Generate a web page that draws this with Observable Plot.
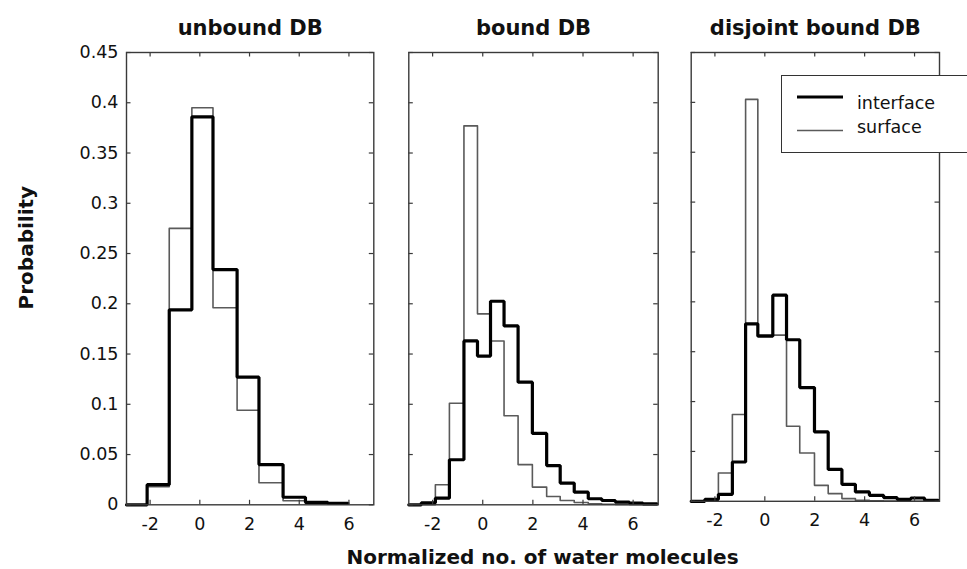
<!DOCTYPE html>
<html>
<head>
<meta charset="utf-8">
<script src="https://cdn.jsdelivr.net/npm/d3@7"></script>
<script src="https://cdn.jsdelivr.net/npm/@observablehq/plot@0.6"></script>
<style>
  html, body { margin: 0; padding: 0; background: #fff; }
  #chart { position: relative; width: 967px; height: 569px; overflow: hidden; font-family: "DejaVu Sans", sans-serif; }
  #chart svg { position: absolute; left: 0; top: 0; }
  #legend { position: absolute; left: 781px; top: 75px; width: 200px; height: 78px; background: #fff; border: 1.3px solid #333; box-sizing: border-box; }
  #legend svg { position: absolute; left: 0; top: 0; }
</style>
</head>
<body>
<div id="chart"></div>
<script>
// ---- data ----
const panelTitles = ["unbound DB", "bound DB", "disjoint bound DB"];
const seriesNames = ["interface", "surface"];
const xTicks = [-2, 0, 2, 4, 6];
const yTicks = [0, 0.05, 0.1, 0.15, 0.2, 0.25, 0.3, 0.35, 0.4, 0.45];

// bin edges (left edge of each step); first entry is the left axis limit
const unboundEdges   = [-2.95, -2.12, -1.23, -0.32, 0.53, 1.50, 2.38, 3.35, 4.25, 5.15, 5.96];
const unboundIface   = [0, 0.020, 0.194, 0.386, 0.234, 0.127, 0.040, 0.0075, 0.0025, 0.0015];
const unboundSurf    = [0, 0.018, 0.275, 0.395, 0.196, 0.094, 0.022, 0.004, 0.001, 0.0005];

const boundEdges     = [-2.95, -2.45, -1.89, -1.33, -0.75, -0.21, 0.31, 0.85, 1.41, 1.98, 2.55, 3.09, 3.65, 4.21, 4.75, 5.29, 5.85, 6.39, 6.95];
const boundIface     = [0, 0.002, 0.0066, 0.0448, 0.163, 0.148, 0.2025, 0.178, 0.122, 0.071, 0.039, 0.0216, 0.0126, 0.006, 0.0043, 0.0027, 0.0017, 0.001];
const boundSurf      = [0, 0, 0.020, 0.101, 0.377, 0.190, 0.163, 0.0886, 0.040, 0.0176, 0.0083, 0.0043, 0.0023, 0.001, 0.0005, 0.0003, 0.0002, 0.0001];

const disjointEdges  = [-2.95, -2.4, -1.86, -1.3, -0.77, -0.28, 0.32, 0.87, 1.4, 1.99, 2.54, 3.09, 3.63, 4.19, 4.76, 5.3, 5.85, 6.4, 6.95];
const disjointIface  = [0, 0.002, 0.007, 0.0394, 0.178, 0.1656, 0.2067, 0.162, 0.114, 0.0696, 0.032, 0.017, 0.0094, 0.006, 0.0037, 0.002, 0.0033, 0.001];
const disjointSurf   = [0, 0.001, 0.0284, 0.087, 0.403, 0.1666, 0.1666, 0.0753, 0.0485, 0.016, 0.0077, 0.0027, 0.001, 0.0005, 0.0003, 0.0002, 0.0001, 0.0001];

const xLabel = "Normalized no. of water molecules";
const yLabel = "Probability";

// ---- layout ----
const W = 967, H = 569;
const panels = [
  {title: panelTitles[0], edges: unboundEdges, a: unboundIface, b: unboundSurf, L: 126, R: 373.3, T: 52, B: 504.3, yAxis: true},
  {title: panelTitles[1], edges: boundEdges, a: boundIface, b: boundSurf, L: 408.3, R: 657.7, T: 52, B: 504.3, xLab: true},
  {title: panelTitles[2], edges: disjointEdges, a: disjointIface, b: disjointSurf, L: 690.7, R: 939, T: 52, B: 500.8}
];

function steps(edges, vals) {
  return edges.map((e, i) => ({x: e, y: vals[Math.min(i, vals.length - 1)]}));
}

const chart = document.getElementById("chart");
const frameColor = "#3a3a3a";

panels.forEach(p => {
  const innerH = p.B - p.T, innerW = p.R - p.L;
  const tk = 4.5;
  const marks = [
    Plot.line(steps(p.edges, p.b), {x: "x", y: "y", curve: "step-after", stroke: "#5a5a5a", strokeWidth: 1.6}),
    Plot.line(steps(p.edges, p.a), {x: "x", y: "y", curve: "step-after", stroke: "#000", strokeWidth: 3.2, strokeLinejoin: "miter"}),
    Plot.tickX(xTicks, {x: d => d, insetTop: innerH - tk, stroke: frameColor, strokeWidth: 1.2}),
    Plot.tickX(xTicks, {x: d => d, insetBottom: innerH - tk, stroke: frameColor, strokeWidth: 1.2}),
    Plot.tickY(yTicks, {y: d => d, insetRight: innerW - tk, stroke: frameColor, strokeWidth: 1.2}),
    Plot.tickY(yTicks, {y: d => d, insetLeft: innerW - tk, stroke: frameColor, strokeWidth: 1.2}),
    Plot.frame({stroke: frameColor, strokeWidth: 1.4}),
    Plot.axisX(xTicks, {tickSize: 0, tickPadding: 12.5, fontSize: 17.5, tickFormat: d => String(d), label: null, fill: "#111"}),
    Plot.text([p.title], {frameAnchor: "top", lineAnchor: "bottom", dy: -17.5, fontSize: 21, fontWeight: "bold", fill: "#111"})
  ];
  if (p.yAxis) {
    marks.push(Plot.axisY(yTicks, {tickSize: 0, tickPadding: 8, fontSize: 17.5, tickFormat: d => String(+d.toFixed(2)), label: null, fill: "#111"}));
    marks.push(Plot.text([yLabel], {frameAnchor: "left", textAnchor: "middle", lineAnchor: "bottom", rotate: -90, dx: -94, dy: -31, fontSize: 20, fontWeight: "bold", fill: "#111"}));
  }
  if (p.xLab) {
    marks.push(Plot.text([xLabel], {frameAnchor: "bottom", textAnchor: "middle", lineAnchor: "bottom", dy: 59.5, dx: 9, fontSize: 20, fontWeight: "bold", fill: "#111"}));
  }
  const svg = Plot.plot({
    width: W, height: H,
    marginLeft: p.L, marginRight: W - p.R, marginTop: p.T, marginBottom: H - p.B,
    x: {domain: [-2.95, 7], axis: null},
    y: {domain: [0, 0.45], axis: null},
    style: {background: "transparent", fontFamily: "DejaVu Sans", overflow: "visible"},
    marks
  });
  chart.appendChild(svg);
});

// legend (HTML overlay, white box on top of the third panel)
const leg = document.createElement("div");
leg.id = "legend";
const ns = "http://www.w3.org/2000/svg";
const lsvg = document.createElementNS(ns, "svg");
lsvg.setAttribute("width", 200); lsvg.setAttribute("height", 78);
[[seriesNames[0], "#000", 3.2, 21, 32.5], [seriesNames[1], "#5a5a5a", 1.6, 54.5, 56.5]].forEach(([name, col, sw, yy, ty]) => {
  const ln = document.createElementNS(ns, "line");
  ln.setAttribute("x1", 15); ln.setAttribute("x2", 61);
  ln.setAttribute("y1", yy); ln.setAttribute("y2", yy);
  ln.setAttribute("stroke", col); ln.setAttribute("stroke-width", sw);
  lsvg.appendChild(ln);
  const t = document.createElementNS(ns, "text");
  t.setAttribute("x", 75); t.setAttribute("y", ty);
  t.setAttribute("font-size", 17.5); t.setAttribute("fill", "#111");
  t.setAttribute("font-family", "DejaVu Sans");
  t.textContent = name;
  lsvg.appendChild(t);
});
leg.appendChild(lsvg);
chart.appendChild(leg);
</script>
</body>
</html>
